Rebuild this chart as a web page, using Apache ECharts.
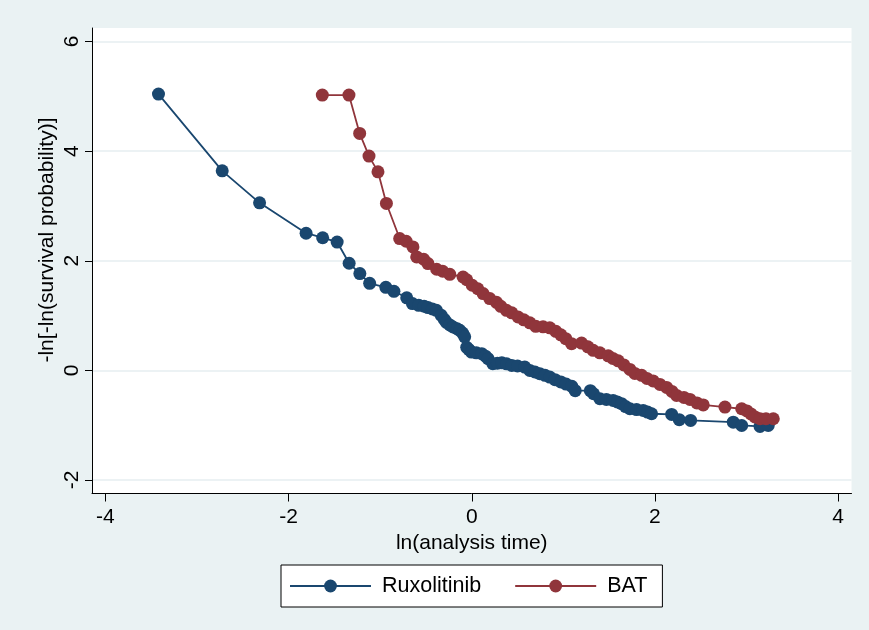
<!DOCTYPE html>
<html>
<head>
<meta charset="utf-8">
<script src="https://cdn.jsdelivr.net/npm/echarts@6/dist/echarts.min.js"></script>
<style>
  html, body { margin: 0; padding: 0; background: #eaf2f3; }
  #chart { width: 869px; height: 630px; }
</style>
</head>
<body>
<div id="chart"></div>
<script>
// ln(analysis time) / -ln[-ln(S)]
var ruxTime = [-3.421, -2.725, -2.317, -1.809, -1.628, -1.470, -1.339, -1.222, -1.115, -0.938,
  -0.850, -0.710, -0.648, -0.579, -0.520, -0.478, -0.430, -0.386, -0.333, -0.300,
  -0.277, -0.240, -0.204, -0.160, -0.131, -0.100, -0.077, -0.055, -0.030, -0.003,
  0.050, 0.109, 0.150, 0.178, 0.230, 0.280, 0.328, 0.380, 0.437, 0.500,
  0.579, 0.634, 0.690, 0.743, 0.800, 0.852, 0.910, 0.973, 1.030, 1.093,
  1.130, 1.295, 1.330, 1.399, 1.470, 1.544, 1.590, 1.636, 1.680, 1.727,
  1.800, 1.872, 1.920, 1.964, 2.183, 2.266, 2.390, 2.856, 2.948, 3.148, 3.238];
var ruxValue = [5.041, 3.640, 3.056, 2.502, 2.420, 2.341, 1.954, 1.766, 1.589, 1.516,
  1.443, 1.324, 1.218, 1.187, 1.170, 1.145, 1.120, 1.096, 1.005, 0.930,
  0.877, 0.830, 0.791, 0.760, 0.731, 0.680, 0.612, 0.420, 0.380, 0.334,
  0.320, 0.305, 0.260, 0.214, 0.122, 0.130, 0.137, 0.120, 0.091, 0.080,
  0.060, 0.000, -0.030, -0.060, -0.090, -0.122, -0.170, -0.210, -0.250, -0.290,
  -0.370, -0.370, -0.426, -0.517, -0.530, -0.548, -0.575, -0.608, -0.660, -0.700,
  -0.715, -0.731, -0.760, -0.791, -0.804, -0.900, -0.913, -0.944, -1.005, -1.023, -1.005];

var batTime = [-1.632, -1.341, -1.224, -1.122, -1.024, -0.932, -0.787, -0.716, -0.642, -0.601,
  -0.525, -0.478, -0.383, -0.317, -0.240, -0.095, -0.055, 0.005, 0.066, 0.124,
  0.197, 0.270, 0.317, 0.379, 0.437, 0.506, 0.568, 0.634, 0.699, 0.779,
  0.852, 0.918, 0.973, 1.027, 1.090, 1.199, 1.268, 1.326, 1.399, 1.490,
  1.541, 1.599, 1.661, 1.727, 1.781, 1.855, 1.913, 1.981, 2.055, 2.128,
  2.186, 2.237, 2.317, 2.383, 2.459, 2.528, 2.765, 2.948, 3.005, 3.049,
  3.093, 3.148, 3.213, 3.293];
var batValue = [5.023, 5.023, 4.323, 3.909, 3.622, 3.045, 2.405, 2.356, 2.252, 2.069,
  2.027, 1.949, 1.845, 1.808, 1.753, 1.704, 1.653, 1.553, 1.489, 1.401,
  1.310, 1.242, 1.169, 1.096, 1.050, 0.974, 0.922, 0.868, 0.804, 0.795,
  0.776, 0.712, 0.648, 0.579, 0.488, 0.499, 0.429, 0.365, 0.320, 0.265,
  0.219, 0.174, 0.100, 0.018, -0.055, -0.091, -0.146, -0.192, -0.256, -0.311,
  -0.384, -0.457, -0.493, -0.530, -0.594, -0.630, -0.670, -0.700, -0.740, -0.795,
  -0.849, -0.882, -0.882, -0.882];

var seriesNames = ['Ruxolitinib', 'BAT'];
var xTicks = [-4, -2, 0, 2, 4];
var yTicks = [-2, 0, 2, 4, 6];

function pairs(xs, ys) {
  return xs.map(function (x, i) { return [x, ys[i]]; });
}

var chart = echarts.init(document.getElementById('chart'), null, { renderer: 'canvas' });

var font = 'Liberation Sans, Arial, sans-serif';
var colors = ['#1a476f', '#90353b'];

function lineSeries(i, xs, ys) {
  return {
    name: seriesNames[i],
    type: 'line',
    data: pairs(xs, ys),
    symbol: 'circle',
    symbolSize: 13,
    showAllSymbol: true,
    lineStyle: { width: 1.8, color: colors[i] },
    itemStyle: { color: colors[i] }
  };
}

var option = {
  animation: false,
  backgroundColor: '#eaf2f3',
  color: colors,
  textStyle: { fontFamily: font },
  grid: {
    show: true,
    backgroundColor: '#ffffff',
    borderWidth: 0,
    left: 92,
    right: 17.5,
    top: 28,
    bottom: 136.5
  },
  xAxis: {
    type: 'value',
    min: -4.147,
    max: 4.147,
    name: 'ln(analysis time)',
    nameLocation: 'middle',
    nameGap: 36,
    nameTextStyle: { fontSize: 21, color: '#000', fontFamily: font },
    axisLine: { onZero: false, lineStyle: { color: '#000', width: 1 } },
    axisTick: { customValues: xTicks, length: 8, lineStyle: { color: '#000' } },
    axisLabel: { customValues: xTicks, fontSize: 21, color: '#000', margin: 13, fontFamily: font },
    splitLine: { show: false }
  },
  yAxis: {
    type: 'value',
    min: -2.246,
    max: 6.246,
    axisLine: { show: true, onZero: false, lineStyle: { color: '#000', width: 1 } },
    axisTick: { show: true, customValues: yTicks, length: 7, lineStyle: { color: '#000' } },
    axisLabel: { customValues: yTicks, rotate: 90, fontSize: 21, color: '#000', margin: 9, fontFamily: font },
    splitLine: { show: true, lineStyle: { color: '#e6eef0', width: 1.5 } }
  },
  legend: {
    left: 281,
    top: 565,
    orient: 'horizontal',
    backgroundColor: '#ffffff',
    borderColor: '#000',
    borderWidth: 1,
    borderRadius: 0,
    padding: [10, 15, 10, 8],
    itemWidth: 81,
    itemHeight: 16,
    itemGap: 33,
    textStyle: { fontSize: 21.5, color: '#000', fontFamily: font, padding: [0, 0, 0, 6] },
    data: seriesNames
  },
  graphic: [
    {
      type: 'text',
      x: 47,
      y: 240,
      rotation: Math.PI / 2,
      style: {
        text: '-ln[-ln(survival probability)]',
        fontSize: 21,
        fontFamily: font,
        fill: '#000',
        align: 'center',
        verticalAlign: 'middle'
      }
    }
  ],
  series: [
    lineSeries(0, ruxTime, ruxValue),
    lineSeries(1, batTime, batValue)
  ]
};

chart.setOption(option);
</script>
</body>
</html>
